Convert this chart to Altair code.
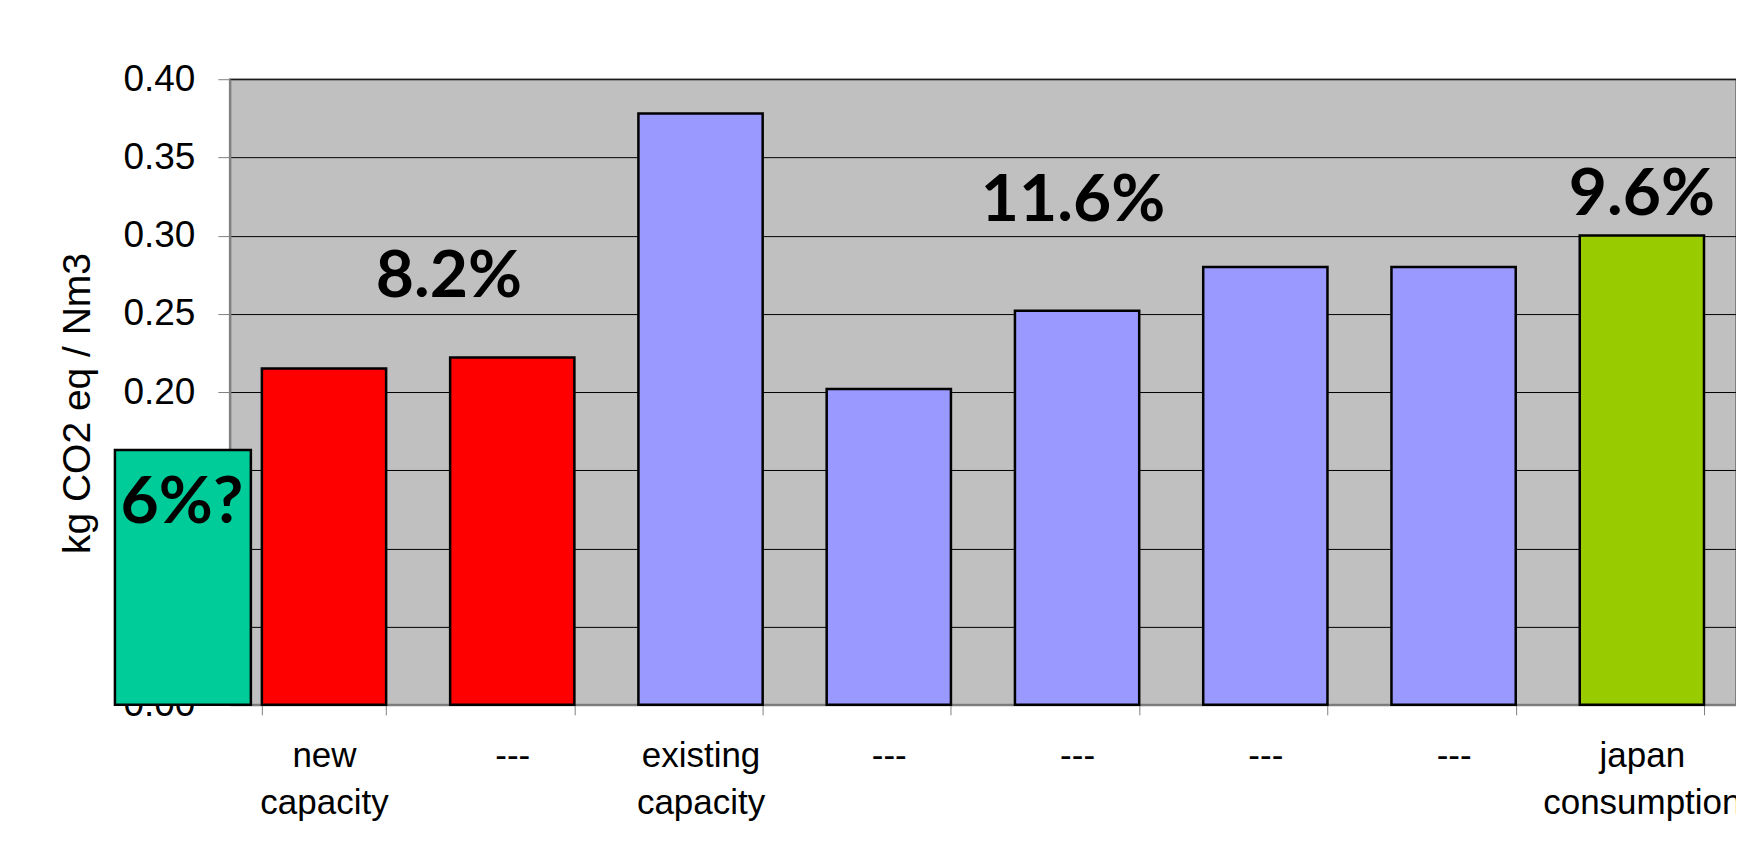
import json
import altair as alt
import pandas as pd

# ---- data ----
categories = ["new capacity", "---", "existing capacity", "---", "---", "---", "---", "japan consumption"]
values = [0.215, 0.222, 0.378, 0.202, 0.252, 0.280, 0.280, 0.300]
bar_colors = ["#FF0000", "#FF0000", "#9999FF", "#9999FF", "#9999FF", "#9999FF", "#9999FF", "#99CC00"]

annot_text = ["8.2%", "11.6%", "9.6%"]
annot_pos = [0, 4, 7]
annot_value = [0.261, 0.3095, 0.313]
annot_dx = [125, -4, 0]

side_text = ["6%?"]
side_value = [0.163]
side_text_value = [0.1163]

y_ticks = [0.0, 0.05, 0.10, 0.15, 0.20, 0.25, 0.30, 0.35, 0.40]

bars = pd.DataFrame({"pos": list(range(len(categories))), "value": values, "color": bar_colors})
annots = pd.DataFrame({"pos": annot_pos, "value": annot_value, "text": annot_text})
side_box = pd.DataFrame({"value": side_value, "v0": [0.0]})
side_lbl = pd.DataFrame({"value": side_text_value, "text": side_text})

label_expr = "split(" + json.dumps(categories) + "[datum.value] || '', ' ')"

x_enc = alt.X(
    "pos:O",
    scale=alt.Scale(paddingInner=0.34, paddingOuter=0.17),
    axis=alt.Axis(
        title=None,
        labelAngle=0,
        labelExpr=label_expr,
        tickBand="extent",
        tickSize=10,
        tickColor="#808080",
        tickWidth=1,
        domainColor="#808080",
        domainWidth=2,
        labelFont="Liberation Sans",
        labelFontSize=35,
        labelColor="#000000",
        labelLineHeight=47,
        labelPadding=24,
        labelOverlap=False,
        labelBound=False,
        labelLimit=0,
        grid=False,
    ),
)

y_scale = alt.Scale(domain=[0, 0.4], nice=False, zero=True)

bar_layer = alt.Chart(bars).mark_bar(stroke="#000000", strokeWidth=2.5).encode(
    x=x_enc,
    y=alt.Y(
        "value:Q",
        scale=y_scale,
        axis=alt.Axis(
            title="kg CO2 eq / Nm3",
            values=y_ticks,
            format=".2f",
            grid=True,
            gridColor="#000000",
            gridWidth=1,
            tickSize=12,
            tickColor="#808080",
            domainColor="#808080",
            domainWidth=2,
            labelFont="Liberation Sans",
            labelFontSize=37,
            labelColor="#000000",
            labelPadding=23,
            titleFont="Liberation Sans",
            titleFontSize=39,
            titleFontWeight="normal",
            titleColor="#000000",
            titleAngle=-90,
            titleAlign="center",
            titleBaseline="alphabetic",
            titleX=-140,
            titleY=324,
        ),
    ),
    color=alt.Color("color:N", scale=None),
)

text_layers = []
for i in range(len(annot_text)):
    sub = annots.iloc[[i]]
    text_layers.append(
        alt.Chart(sub).mark_text(
            font="Lato", fontWeight="bold", fontSize=66, color="#000000",
            align="center", baseline="alphabetic", dx=annot_dx[i],
        ).encode(x="pos:O", y=alt.Y("value:Q", scale=y_scale), text="text:N")
    )

box_layer = alt.Chart(side_box).mark_rect(fill="#00CC99", stroke="#000000", strokeWidth=2.5).encode(
    x=alt.value(-115), x2=alt.value(21),
    y=alt.Y("value:Q", scale=y_scale), y2="v0:Q",
)

box_text = alt.Chart(side_lbl).mark_text(
    font="Lato", fontWeight="bold", fontSize=66, color="#000000",
    align="center", baseline="alphabetic",
).encode(x=alt.value(-48), y=alt.Y("value:Q", scale=y_scale), text="text:N")

chart = alt.layer(bar_layer, *text_layers, box_layer, box_text).properties(
    width=1507,
    height=626,
    background="#FFFFFF",
    padding={"left": 222, "top": 71, "right": 0, "bottom": 150},
    autosize=alt.AutoSizeParams(type="none"),
).configure_view(
    fill="#C0C0C0", stroke="#808080", strokeWidth=2
)

chart.save("out.html", embed_options={"renderer": "svg", "actions": False})
